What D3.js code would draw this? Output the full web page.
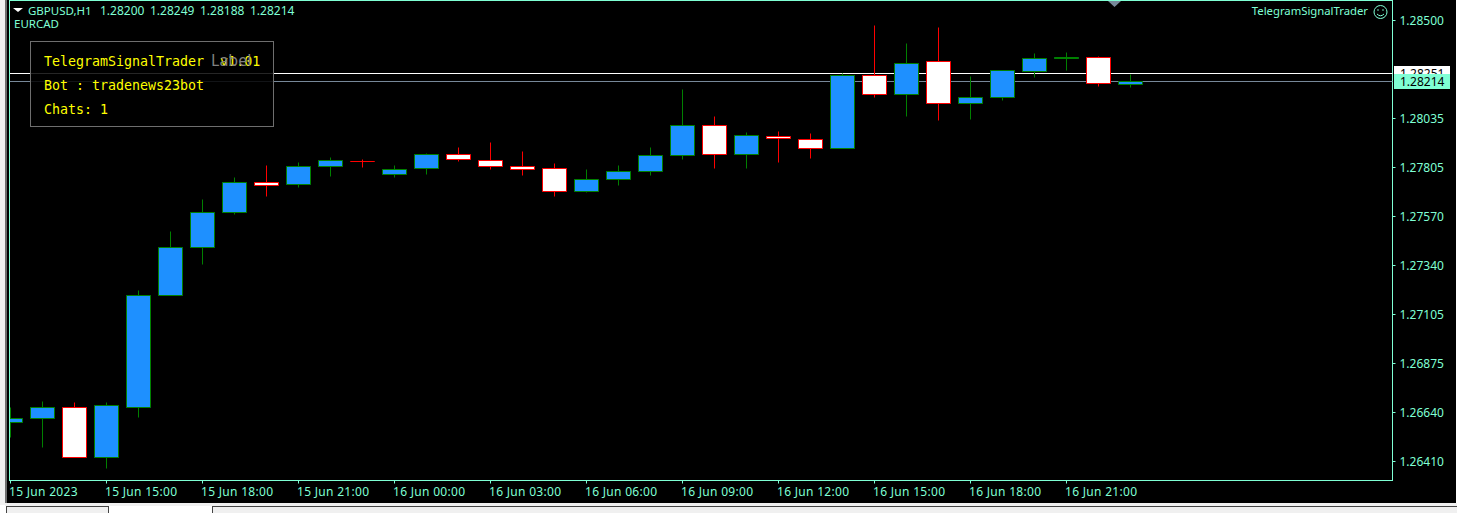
<!DOCTYPE html>
<html>
<head>
<meta charset="utf-8">
<script src="https://cdnjs.cloudflare.com/ajax/libs/d3/7.8.5/d3.min.js"></script>
<style>
html,body{margin:0;padding:0;background:#fff;overflow:hidden}
svg{display:block}
text{font-family:"Noto Sans",Arial,sans-serif;font-size:12px}
.mono{font-family:"DejaVu Sans Mono",monospace;font-size:13.3px}
</style>
</head>
<body>
<div id="chart"></div>
<script>
// Hourly bars from 15 Jun 2023 12:00 onward
const opens  = [1.26604,1.26620,1.26672,1.26436,1.26672,1.27202,1.27430,1.27596,1.27736,1.27727,1.27812,1.27836,1.27777,1.27802,1.27869,1.27840,1.27812,1.27802,1.27694,1.27750,1.27788,1.27864,1.28006,1.27869,1.27954,1.27940,1.27897,1.28242,1.28153,1.28309,1.28110,1.28138,1.28261,1.28324,1.28328,1.28200];
const highs  = [1.26673,1.26702,1.26697,1.26697,1.27227,1.27506,1.27657,1.27761,1.27818,1.27832,1.27856,1.27846,1.27818,1.27875,1.27903,1.27927,1.27884,1.27828,1.27799,1.27818,1.27903,1.28178,1.28050,1.27974,1.27979,1.27969,1.28253,1.28480,1.28395,1.28471,1.28239,1.28266,1.28348,1.28353,1.28332,1.28249];
const lows   = [1.26533,1.26486,1.26438,1.26386,1.26628,1.27202,1.27350,1.27586,1.27673,1.27715,1.27767,1.27809,1.27761,1.27777,1.27837,1.27799,1.27771,1.27673,1.27692,1.27725,1.27771,1.27848,1.27805,1.27805,1.27834,1.27853,1.27897,1.28141,1.28051,1.28032,1.28037,1.28127,1.28236,1.28269,1.28193,1.28188];
const closes = [1.26620,1.26672,1.26438,1.26681,1.27202,1.27430,1.27596,1.27738,1.27725,1.27812,1.27840,1.27836,1.27798,1.27869,1.27845,1.27812,1.27801,1.27694,1.27750,1.27788,1.27864,1.28006,1.27869,1.27959,1.27944,1.27897,1.28242,1.28153,1.28299,1.28110,1.28138,1.28266,1.28323,1.28329,1.28205,1.28214];
const priceTicks = ["1.28500","1.28035","1.27805","1.27570","1.27340","1.27105","1.26875","1.26640","1.26410"];
// unrounded grid levels behind the rounded labels
const priceTickPositions = [1.285041,1.280404,1.278086,1.275768,1.27345,1.271131,1.268813,1.266495,1.264176];
const timeTicks = ["15 Jun 2023","15 Jun 15:00","15 Jun 18:00","15 Jun 21:00","16 Jun 00:00","16 Jun 03:00","16 Jun 06:00","16 Jun 09:00","16 Jun 12:00","16 Jun 15:00","16 Jun 18:00","16 Jun 21:00"];
const timeTickBars = [0,3,6,9,12,15,18,21,24,27,30,33];
const askPrice = 1.28251, bidPrice = 1.28214;
const symbolLabel = "GBPUSD,H1";
const ohlcLabels = ["1.28200","1.28249","1.28188","1.28214"];
const panelLines = ["TelegramSignalTrader  v1.01","Bot : tradenews23bot","Chats: 1"];

const W=1457,H=513, L=9.5,R=1392.5,T=0.5,B=480.5;
const AQUA="#7FFFD4",GREEN="#008000",BLUE="#1E90FF",RED="#FF0000",GREY="#778899";
const svg=d3.select("#chart").append("svg").attr("width",W).attr("height",H);

// window furniture
svg.append("rect").attr("x",0).attr("y",0).attr("width",W).attr("height",H).attr("fill","#fff");
svg.append("rect").attr("x",0).attr("y",0).attr("width",5).attr("height",505).attr("fill","#f0f0f0");
svg.append("rect").attr("x",5).attr("y",0).attr("width",4).attr("height",505).attr("fill","#6e6e6e");
svg.append("rect").attr("x",7).attr("y",0).attr("width",W-8).attr("height",503).attr("fill","#000");
svg.append("rect").attr("x",5).attr("y",503).attr("width",W-5).attr("height",3).attr("fill","#f0f0f0");
[[6,102],[212,1245]].forEach(d=>svg.append("rect").attr("x",d[0]+.5).attr("y",506.5).attr("width",d[1]).attr("height",10).attr("fill","#f0f0f0").attr("stroke","#444"));

const y=d3.scaleLinear().domain([1.26323,1.28594]).range([481,1]);
const x=d3.scaleLinear().domain([0,35]).range([10,1130]);
const xpx=i=>Math.round(x(i))+.5, ypx=v=>Math.round(y(v))+.5;

svg.append("rect").attr("x",L).attr("y",T).attr("width",R-L).attr("height",B-T).attr("fill","#000").attr("stroke",AQUA);

// axes via d3
const yAxis=d3.axisRight(y).tickValues(priceTickPositions).tickSize(3).tickPadding(3).tickFormat((d,i)=>priceTicks[i]);
const gy=svg.append("g").attr("transform",`translate(${R},0)`).call(yAxis);
const xAxis=d3.axisBottom(x).tickValues(timeTickBars).tickSize(3).tickFormat((d,i)=>timeTicks[i]);
const gx=svg.append("g").attr("transform",`translate(0,${B})`).call(xAxis);
[gy,gx].forEach(g=>{g.select(".domain").remove();g.selectAll("line").attr("stroke",AQUA);
  g.selectAll("text").attr("fill",AQUA).style("font-size","12px").style("font-family",'"Noto Sans",Arial,sans-serif');});
gy.selectAll("text").attr("x",7).attr("dy","0.36em");
gx.selectAll("text").attr("text-anchor","start").attr("x",-1.5).attr("y",7).attr("dy","0.71em").style("letter-spacing","0.3px");
gy.selectAll(".tick").attr("transform",d=>`translate(0,${Math.round(y(d))+.5})`);

// price lines sit behind the candles
svg.append("line").attr("x1",10).attr("x2",R).attr("y1",ypx(askPrice)).attr("y2",ypx(askPrice)).attr("stroke","#fff");
svg.append("line").attr("x1",10).attr("x2",R).attr("y1",ypx(bidPrice)).attr("y2",ypx(bidPrice)).attr("stroke",GREY);

// candles
const plot=svg.append("g").attr("class","candles");
const clipId="plotclip";
svg.append("clipPath").attr("id",clipId).append("rect").attr("x",10).attr("y",1).attr("width",1382).attr("height",479);
plot.attr("clip-path",`url(#${clipId})`);
const bars=d3.range(opens.length);
const isBull=i=>closes[i]>opens[i];
plot.selectAll("line.wick").data(bars).join("line").attr("class","wick")
  .attr("x1",xpx).attr("x2",xpx).attr("y1",i=>ypx(highs[i])).attr("y2",i=>ypx(lows[i]))
  .attr("stroke",i=>isBull(i)?GREEN:RED);
// bodies are paths so that a bar with equal open and close still draws its level stroke
plot.selectAll("path.body").data(bars).join("path").attr("class","body")
  .attr("d",i=>{
    const top=ypx(Math.max(opens[i],closes[i])), bot=ypx(Math.min(opens[i],closes[i])), xl=xpx(i)-12;
    return `M${xl} ${top}H${xl+24}V${bot}H${xl}Z`;
  })
  .attr("fill",i=>isBull(i)?BLUE:"#fff")
  .attr("stroke",i=>isBull(i)?GREEN:RED);

function tag(v,fill){
  const c=ypx(v)-.5;
  svg.append("rect").attr("x",1394).attr("y",c-7).attr("width",56).attr("height",15).attr("fill",fill);
  svg.append("text").attr("x",1400).attr("y",c+4.5).attr("fill","#000").text(d3.format(".5f")(v));
}
tag(askPrice,"#fff");
tag(bidPrice,AQUA);

// top legend
svg.append("path").attr("d","M13 8h10l-5 4z").attr("fill","#fff");
svg.append("text").attr("x",28).attr("y",15).attr("fill",AQUA).style("font-size","11.5px").text(symbolLabel);
const ohlcX=d3.scaleLinear().domain([0,3]).range([100,250]);
svg.selectAll("text.ohlc").data(ohlcLabels).join("text").attr("class","ohlc")
  .attr("x",(d,i)=>ohlcX(i)).attr("y",15).attr("fill",AQUA).text(d=>d);
svg.append("text").attr("x",14).attr("y",28).attr("fill",AQUA).style("font-size","11.5px").text("EURCAD");
svg.append("text").attr("x",1368).attr("y",15).attr("text-anchor","end").attr("fill",AQUA).style("font-size","11.3px").text("TelegramSignalTrader");
svg.append("circle").attr("cx",1380.5).attr("cy",12).attr("r",6.5).attr("fill","none").attr("stroke",AQUA);
svg.append("circle").attr("cx",1378).attr("cy",10).attr("r",.8).attr("fill",AQUA);
svg.append("circle").attr("cx",1383).attr("cy",10).attr("r",.8).attr("fill",AQUA);
svg.append("path").attr("d","M1377 14q3.5 3.5 7 0").attr("fill","none").attr("stroke",AQUA);
svg.append("path").attr("d","M1108 1h13l-6.5 6z").attr("fill",GREY);

// info panel
svg.append("rect").attr("x",30.5).attr("y",41.5).attr("width",243).attr("height",85).attr("fill","#000").attr("fill-opacity",.85).attr("stroke","#6e6e6e");
panelLines.forEach((t,i)=>svg.append("text").attr("class","mono").attr("x",44).attr("y",66+i*24).attr("fill","#FFFF00").attr("xml:space","preserve").style("white-space","pre").text(t));
svg.append("text").attr("x",211).attr("y",66).attr("fill","#808080").style("font-size","16px").text("Label");
</script>
</body>
</html>
